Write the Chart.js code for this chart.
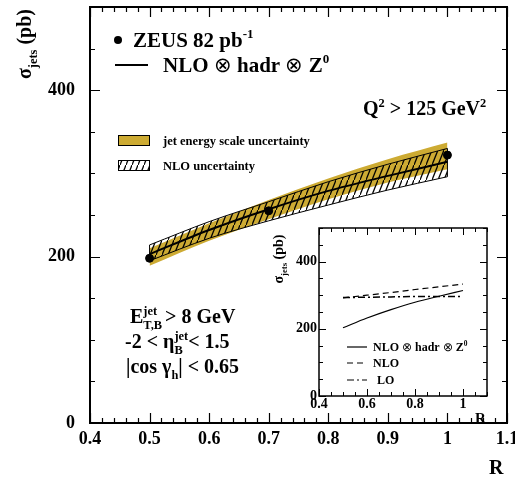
<!DOCTYPE html>
<html>
<head>
<meta charset="utf-8">
<script src="https://cdn.jsdelivr.net/npm/chart.js@4/dist/chart.umd.min.js"></script>
<style>
html, body { margin: 0; padding: 0; background: #fff; }
#wrap { position: relative; width: 515px; height: 478px; }
#main { position: absolute; left: 0; top: 0; }
#inset { position: absolute; left: 270px; top: 222px; }
</style>
</head>
<body>
<div id="wrap">
  <canvas id="main" width="515" height="478"></canvas>
  <canvas id="inset" width="230" height="206"></canvas>
</div>
<script>
// measured points and theory curves (pb)
const zeusR = [0.5, 0.7, 1.0];
const zeusXsec = [198, 255, 322];
const theoryR = [0.5, 0.6, 0.7, 0.8, 0.9, 1.0];
const nloHadrZ0 = [203, 232, 257, 279, 297, 314];
const jesLow = [189, 219, 245, 269, 289, 305];
const jesHigh = [210, 240, 268, 294, 317, 337];
const nloUncLow = [195, 222, 243, 262, 280, 296];
const nloUncHigh = [214, 242, 266, 290, 311, 330];
const nloOnly = [292, 300, 308, 317, 325, 333];
const loOnly = [293, 294, 295, 296, 296, 296];

const mainXTicks = [0.4, 0.5, 0.6, 0.7, 0.8, 0.9, 1.0, 1.1];
const mainYTicks = [0, 200, 400];
const insetXTicks = [0.4, 0.6, 0.8, 1.0];
const insetYTicks = [0, 200, 400];

const FONT = '"Liberation Serif", "Times New Roman", serif';
const GOLD = '#cdab33';

Chart.defaults.font.family = FONT;
Chart.defaults.color = '#000';

const pts = (xs, ys) => xs.map((x, i) => ({ x: x, y: ys[i] }));
const fmt = v => String(Math.round(v * 10) / 10);

// hatch pattern for the NLO uncertainty
const tile = document.createElement('canvas');
tile.width = 6; tile.height = 15;
const tc = tile.getContext('2d');
tc.strokeStyle = '#000';
tc.lineWidth = 1.3;
tc.beginPath();
tc.moveTo(-1, 17.5); tc.lineTo(7, -2.5);
tc.stroke();
const hatch = document.getElementById('main').getContext('2d').createPattern(tile, 'repeat');

// parts: plain strings (bold), {plain} (regular weight), {sup, sub}
function richText(ctx, x, y, parts, size, draw) {
  let cx = x;
  for (const p of parts) {
    if (typeof p === 'string' || p.plain) {
      const txt = typeof p === 'string' ? p : p.plain;
      ctx.font = (typeof p === 'string' ? 'bold ' : '') + size + 'px ' + FONT;
      if (draw !== false) ctx.fillText(txt, cx, y);
      cx += ctx.measureText(txt).width;
    } else {
      const s = size * 0.62;
      ctx.font = 'bold ' + s + 'px ' + FONT;
      let w = 0;
      if (p.sup) {
        if (draw !== false) ctx.fillText(p.sup, cx, y - size * 0.42);
        w = Math.max(w, ctx.measureText(p.sup).width);
      }
      if (p.sub) {
        if (draw !== false) ctx.fillText(p.sub, cx, y + size * 0.28);
        w = Math.max(w, ctx.measureText(p.sub).width);
      }
      cx += w + (p.gap || 0);
    }
  }
  return cx - x;
}

function rotatedRich(ctx, x, y, parts, size) {
  ctx.save();
  ctx.translate(x, y);
  ctx.rotate(-Math.PI / 2);
  const w = richText(ctx, 0, 0, parts, size, false);
  richText(ctx, -w / 2, 0, parts, size);
  ctx.restore();
}

function isMult(v, step) {
  return Math.abs(Math.round(v / step) * step - v) < 1e-6;
}

function frameTicks(chart, o) {
  const ctx = chart.ctx, a = chart.chartArea;
  const x = chart.scales.x, y = chart.scales.y;
  ctx.save();
  ctx.strokeStyle = '#000';
  ctx.lineWidth = o.tw;
  ctx.beginPath();
  for (let i = 0; ; i++) {
    const v = x.min + i * o.xMinor;
    if (v > x.max + 1e-6) break;
    const px = Math.round(x.getPixelForValue(v)) + 0.5;
    const len = isMult(v, o.xMajor) ? o.major : o.minor;
    ctx.moveTo(px, a.bottom); ctx.lineTo(px, a.bottom - len);
    ctx.moveTo(px, a.top); ctx.lineTo(px, a.top + len);
  }
  for (let i = 0; ; i++) {
    const v = y.min + i * o.yMinor;
    if (v > y.max + 1e-6) break;
    const py = Math.round(y.getPixelForValue(v)) + 0.5;
    const len = isMult(v, o.yMajor) ? o.major : o.minor;
    ctx.moveTo(a.left, py); ctx.lineTo(a.left + len, py);
    ctx.moveTo(a.right, py); ctx.lineTo(a.right - len, py);
  }
  ctx.stroke();
  ctx.lineWidth = o.lw;
  ctx.strokeRect(a.left, a.top, a.right - a.left, a.bottom - a.top);
  ctx.restore();
}

function fixedScale(ticks, size, pad, font) {
  return {
    type: 'linear',
    afterBuildTicks: s => { s.ticks = ticks.map(v => ({ value: v })); },
    afterFit: s => {
      if (s.isHorizontal()) s.height = size; else s.width = size;
      s.paddingLeft = 0; s.paddingRight = 0; s.paddingTop = 0; s.paddingBottom = 0;
    },
    grid: { display: false, drawTicks: false, tickLength: 0 },
    border: { display: false },
    ticks: {
      padding: pad, autoSkip: false, maxRotation: 0, color: '#000',
      font: { size: font, weight: 'bold' },
      callback: v => fmt(v)
    }
  };
}

const OTIMES = { plain: '\u2297' };

// ---------- main chart ----------
const mainPlugin = {
  id: 'mainDeco',
  afterDraw(chart) {
    const ctx = chart.ctx;
    // closing edges of the hatched band
    const lo = chart.getDatasetMeta(2).data, hi = chart.getDatasetMeta(3).data;
    ctx.save();
    ctx.strokeStyle = '#000';
    ctx.lineWidth = 1;
    ctx.beginPath();
    ctx.moveTo(lo[0].x, lo[0].y); ctx.lineTo(hi[0].x, hi[0].y);
    const n = lo.length - 1;
    ctx.moveTo(lo[n].x, lo[n].y); ctx.lineTo(hi[n].x, hi[n].y);
    ctx.stroke();
    ctx.restore();

    frameTicks(chart, { xMinor: 0.02, xMajor: 0.1, yMinor: 50, yMajor: 200, major: 10, minor: 5, lw: 2, tw: 1.2 });

    ctx.save();
    ctx.fillStyle = '#000';
    ctx.textAlign = 'left';
    ctx.textBaseline = 'alphabetic';

    // legend
    ctx.beginPath(); ctx.arc(118, 40, 4, 0, Math.PI * 2); ctx.fill();
    richText(ctx, 133, 47, ['ZEUS 82 pb', { sup: '-1' }], 21);
    ctx.lineWidth = 2;
    ctx.beginPath(); ctx.moveTo(115, 65); ctx.lineTo(148, 65); ctx.stroke();
    richText(ctx, 163, 72, ['NLO ', OTIMES, ' hadr ', OTIMES, ' Z', { sup: '0' }], 21);

    richText(ctx, 363, 115, ['Q', { sup: '2' }, ' > 125 GeV', { sup: '2' }], 20);

    ctx.lineWidth = 1;
    ctx.fillStyle = GOLD;
    ctx.fillRect(118, 135, 31, 10);
    ctx.strokeRect(118.5, 135.5, 31, 10);
    ctx.fillStyle = hatch;
    ctx.fillRect(118, 160, 31, 10);
    ctx.strokeRect(118.5, 160.5, 31, 10);
    ctx.fillStyle = '#000';
    richText(ctx, 163, 145, ['jet energy scale uncertainty'], 12.5);
    richText(ctx, 163, 170, ['NLO uncertainty'], 12.5);

    // cuts
    richText(ctx, 130, 323, ['E', { sup: 'jet', sub: 'T,B', gap: 3 }, '> 8 GeV'], 20);
    richText(ctx, 125, 348, ['-2 < \u03b7', { sup: 'jet', sub: 'B' }, '< 1.5'], 20);
    richText(ctx, 126, 373, ['|cos \u03b3', { sub: 'h' }, '| < 0.65'], 20);

    // axis titles
    richText(ctx, 489, 474, ['R'], 20);
    rotatedRich(ctx, 31, 44, ['\u03c3', { sub: 'jets' }, ' (pb)'], 20);
    ctx.restore();
  }
};

new Chart(document.getElementById('main'), {
  type: 'line',
  data: {
    datasets: [
      { data: pts(theoryR, jesLow), borderWidth: 0, pointRadius: 0, fill: false, order: 6, cubicInterpolationMode: 'monotone' },
      { data: pts(theoryR, jesHigh), borderWidth: 0, pointRadius: 0, fill: '-1', backgroundColor: GOLD, order: 5, cubicInterpolationMode: 'monotone' },
      { data: pts(theoryR, nloUncLow), borderColor: '#000', borderWidth: 1, pointRadius: 0, fill: false, order: 4, cubicInterpolationMode: 'monotone' },
      { data: pts(theoryR, nloUncHigh), borderColor: '#000', borderWidth: 1, pointRadius: 0, fill: '-1', backgroundColor: hatch, order: 3, cubicInterpolationMode: 'monotone' },
      { data: pts(theoryR, nloHadrZ0), borderColor: '#000', borderWidth: 2, pointRadius: 0, fill: false, order: 2, cubicInterpolationMode: 'monotone' },
      { data: pts(zeusR, zeusXsec), showLine: false, pointRadius: 4, pointBackgroundColor: '#000', pointBorderColor: '#000', order: 1 }
    ]
  },
  options: {
    responsive: false,
    animation: false,
    events: [],
    layout: { padding: { left: 0, right: 8, top: 7, bottom: 0 } },
    plugins: { legend: { display: false }, tooltip: { enabled: false } },
    scales: {
      x: Object.assign(fixedScale(mainXTicks, 55, 6, 18), { min: 0.4, max: 1.1 }),
      y: Object.assign(fixedScale(mainYTicks, 90, 15, 18), { min: 0, max: 500 })
    }
  },
  plugins: [mainPlugin]
});

// ---------- inset ----------
const insetPlugin = {
  id: 'insetDeco',
  afterDraw(chart) {
    const ctx = chart.ctx;
    frameTicks(chart, { xMinor: 0.05, xMajor: 0.2, yMinor: 50, yMajor: 200, major: 7, minor: 4, lw: 1.5, tw: 1 });
    ctx.save();
    ctx.fillStyle = '#000';
    ctx.strokeStyle = '#000';
    ctx.textAlign = 'left';
    ctx.textBaseline = 'alphabetic';
    ctx.lineWidth = 1.2;
    ctx.beginPath(); ctx.moveTo(77, 125); ctx.lineTo(97, 125); ctx.stroke();
    ctx.setLineDash([6, 4]);
    ctx.beginPath(); ctx.moveTo(77, 141); ctx.lineTo(97, 141); ctx.stroke();
    ctx.setLineDash([7, 3, 2, 3]);
    ctx.beginPath(); ctx.moveTo(77, 158); ctx.lineTo(97, 158); ctx.stroke();
    ctx.setLineDash([]);
    richText(ctx, 103, 129, ['NLO ', OTIMES, ' hadr ', OTIMES, ' Z', { sup: '0' }], 12);
    richText(ctx, 103, 145, ['NLO'], 12);
    richText(ctx, 107, 162, ['LO'], 12);
    richText(ctx, 205, 201, ['R'], 15);
    rotatedRich(ctx, 13, 37, ['\u03c3', { sub: 'jets' }, ' (pb)'], 14);
    ctx.restore();
  }
};

new Chart(document.getElementById('inset'), {
  type: 'line',
  data: {
    datasets: [
      { data: pts(theoryR, nloHadrZ0), borderColor: '#000', borderWidth: 1.2, pointRadius: 0, fill: false, cubicInterpolationMode: 'monotone' },
      { data: pts(theoryR, nloOnly), borderColor: '#000', borderWidth: 1.2, borderDash: [6, 4], pointRadius: 0, fill: false },
      { data: pts(theoryR, loOnly), borderColor: '#000', borderWidth: 1.5, borderDash: [7, 3, 2, 3], pointRadius: 0, fill: false }
    ]
  },
  options: {
    responsive: false,
    animation: false,
    events: [],
    layout: { padding: { left: 0, right: 13, top: 6, bottom: 0 } },
    plugins: { legend: { display: false }, tooltip: { enabled: false } },
    scales: {
      x: Object.assign(fixedScale(insetXTicks, 32, 0, 14), { min: 0.4, max: 1.1 }),
      y: Object.assign(fixedScale(insetYTicks, 49, 2, 14), { min: 0, max: 500 })
    }
  },
  plugins: [insetPlugin]
});
</script>
</body>
</html>
